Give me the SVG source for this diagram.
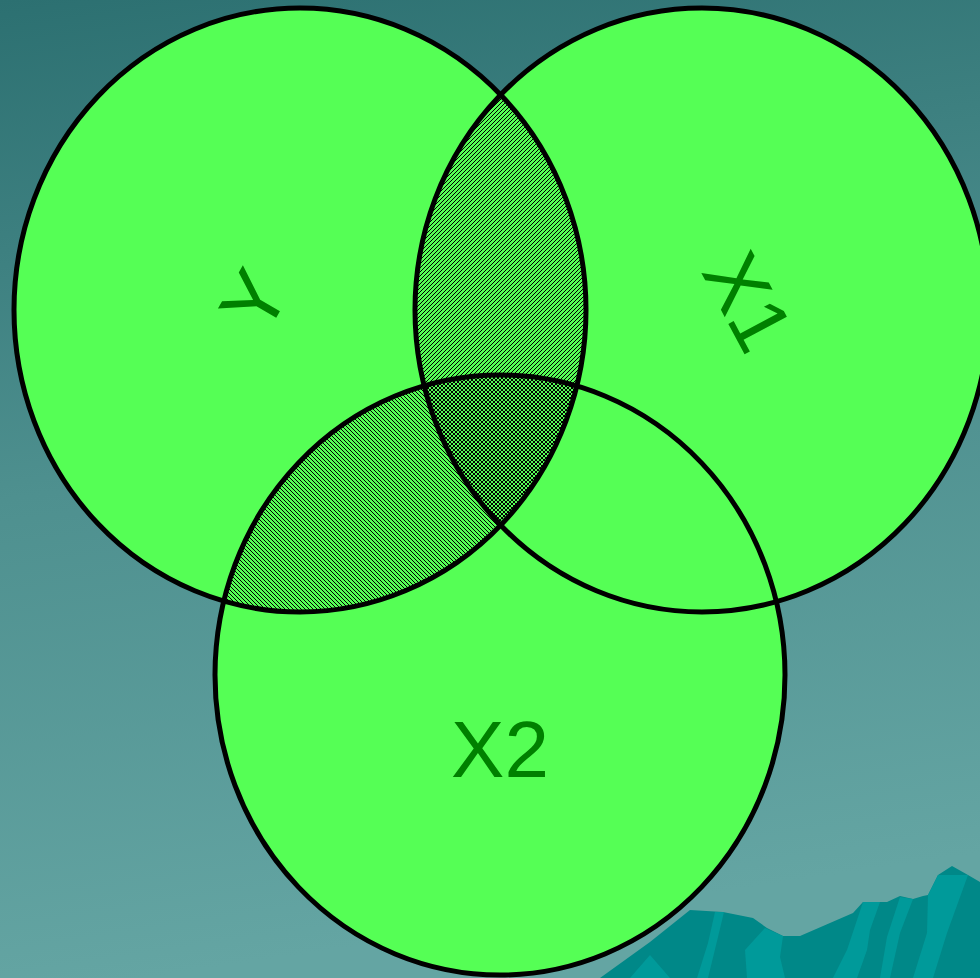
<svg xmlns="http://www.w3.org/2000/svg" width="980" height="978" viewBox="0 0 980 978">
<style>
.fill{fill:#55ff55;stroke:none}
.edge{fill:none;stroke:#000;stroke-width:5}
.lbl{font-family:"Liberation Sans",Arial,sans-serif;font-size:80px;fill:#008000}
.mdark{fill:#008888}
.mlight{fill:#009a9a}
.px{fill:#000;shape-rendering:crispEdges}
</style>
<defs>
<linearGradient id="bg" x1="0" y1="0" x2="0.15" y2="1">
<stop offset="0" stop-color="#2c7071"/>
<stop offset="0.5" stop-color="#4e908f"/>
<stop offset="1" stop-color="#64a5a3"/>
</linearGradient>
<pattern id="fwd" patternUnits="userSpaceOnUse" x="0" y="0" width="4" height="4">
<rect class="px" x="3" y="0" width="1" height="1"/>
<rect class="px" x="2" y="1" width="1" height="1"/>
<rect class="px" x="1" y="2" width="1" height="1"/>
<rect class="px" x="0" y="3" width="1" height="1"/>
</pattern>
<pattern id="back" patternUnits="userSpaceOnUse" x="0" y="0" width="4" height="4">
<rect class="px" x="0" y="0" width="1" height="1"/>
<rect class="px" x="1" y="1" width="1" height="1"/>
<rect class="px" x="2" y="2" width="1" height="1"/>
<rect class="px" x="3" y="3" width="1" height="1"/>
</pattern>
<clipPath id="clipY"><ellipse cx="300" cy="310" rx="286" ry="302"/></clipPath>
</defs>
<rect x="0" y="0" width="980" height="978" fill="url(#bg)"/>
<g id="mountains">
<polygon class="mdark" points="600,978 650,942 690,910 723,912 753,918 767,928 783,936 800,936 853,913 863,902 887,902 900,896 913,899 923,896 928,895 938,875 952,866 968,875 980,882 980,978"/>
<polygon class="mlight" points="715,912 724,912 718,937 708,978 697,978 708,943"/>
<polygon class="mlight" points="765,928 783,936 780,957 785,978 747,978 745,950"/>
<polygon class="mlight" points="863,902 880,902 870,930 867,950 857,978 833,978 847,950"/>
<polygon class="mlight" points="900,897 913,899 900,933 890,978 880,978 887,937"/>
<polygon class="mlight" points="928,895 938,875 968,875 947,933 933,978 913,978 927,933"/>
<polygon class="mlight" points="630,978 650,955 670,978"/>
</g>
<g id="fills">
<ellipse class="fill" cx="300" cy="310" rx="286" ry="302"/>
<ellipse class="fill" cx="702" cy="310" rx="287" ry="302"/>
<ellipse class="fill" cx="500" cy="675" rx="285" ry="300"/>
</g>
<g id="hatching" clip-path="url(#clipY)">
<ellipse cx="702" cy="310" rx="287" ry="302" fill="url(#fwd)"/>
<ellipse cx="500" cy="675" rx="285" ry="300" fill="url(#back)"/>
</g>
<g id="connectors"/>
<g id="node-Y">
<ellipse class="edge" cx="300" cy="310" rx="286" ry="302"/>
<text class="lbl" text-anchor="middle" transform="translate(253,300) rotate(-60)" x="0" y="29">Y</text>
</g>
<g id="node-X1">
<ellipse class="edge" cx="702" cy="310" rx="287" ry="302"/>
<text class="lbl" text-anchor="middle" transform="translate(749,301) rotate(62)" x="0" y="29">X1</text>
</g>
<g id="node-X2">
<ellipse class="edge" cx="500" cy="675" rx="285" ry="300"/>
<text class="lbl" text-anchor="middle" x="500" y="777">X2</text>
</g>
</svg>
